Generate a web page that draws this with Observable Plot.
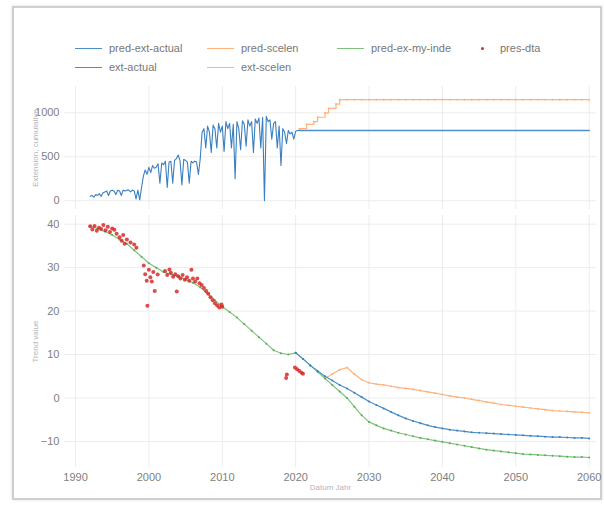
<!DOCTYPE html>
<html><head><meta charset="utf-8">
<script src="https://cdn.jsdelivr.net/npm/d3@7"></script>
<script src="https://cdn.jsdelivr.net/npm/@observablehq/plot@0.6"></script>
<style>
body{margin:0;background:#fff;font-family:"Liberation Sans",Arial,sans-serif;}
#frame{position:absolute;left:12px;top:6px;width:586px;height:490px;border:2px solid #cfcfcf;box-shadow:0 0 3px #ddd;}
.panel{position:absolute;left:0;}
#top{top:80px}
#bot{top:210px}
.leg{position:absolute;font-size:11px;color:#777;white-space:nowrap;line-height:12px}
.sw{position:absolute;height:0;border-top:1.5px solid}
.dot{position:absolute;width:3px;height:3px;border-radius:50%}
svg [aria-label="y-axis label"] text, svg [aria-label="x-axis label"] text{font-size:8px;fill:#b5b5b5}
svg [aria-label="y-axis tick label"] text, svg [aria-label="x-axis tick label"] text{fill:#808080}
</style></head>
<body>
<div id="frame"></div>
<div id="legend"></div>
<div id="top" class="panel"></div>
<div id="bot" class="panel"></div>
<script>
// ---------- data ----------
const seriesNames = ["pred-ext-actual","pred-scelen","pred-ex-my-inde","pres-dta","ext-actual","ext-scelen"];
const colBlue = "#4f8fc9", colOrange = "#ffb27d", colGreen = "#7cc47c", colRed = "#d62a2a";

// ext-actual, quarterly from 1992.00 to 2020.50
const extActualStart = 1992;
const extActualValues = [
  50,60,40,70, 60,80,50,90, 100,110,60,110, 120,110,70,120, 110,60,120,110,
  120,120,100,120, 110,20,120,10, 150,280,350,300, 380,320,400,370, 380,420,200,430,
  410,450,150,440, 450,200,460,480, 520,450,180,470, 460,440,200,450, 430,450,440,300,
  480,780,820,600, 850,780,550,860, 820,600,880,780, 850,560,900,820, 880,600,870,250,
  900,820,580,910, 870,620,920,850, 900,550,930,880, 940,600,950,0, 960,900,920,700,
  880,900,600,850, 400,820,780,650, 800,760,780,700, 790,800,800
];
// ext-actual continuation (flat)
const extFutureYears = [2020.5, 2060];
const extFutureValues = [800, 800];
// ext-scelen steps
const extScYears  = [2020.5,2021.5,2022.5,2023,2024,2024.5,2025.5,2026,2027,2028,2029,2030,2031,2032,2033,2034,2035,2036,2037,2038,2039,2040,2041,2042,2043,2044,2045,2046,2047,2048,2049,2050,2051,2052,2053,2054,2055,2056,2057,2058,2059,2060];
const extScValues = [820,870,900,950,1000,1050,1100,1150,1150,1150,1150,1150,1150,1150,1150,1150,1150,1150,1150,1150,1150,1150,1150,1150,1150,1150,1150,1150,1150,1150,1150,1150,1150,1150,1150,1150,1150,1150,1150,1150,1150,1150];

// pred-ex-my-inde, yearly 1992..2060
const greenStart = 1992;
const greenValues = [39.5,39,38.3,37.5,36.5,35.5,34,32.5,31,30,29,28.5,28,27.3,26.5,25.5,24,22.5,21,19.8,
  18.5,17,15.5,14,12.5,11,10.3,10,10.4,9,7.5,6,4.5,3,1.5,0,-2,-4,-5.5,-6.3,
  -7,-7.5,-8,-8.4,-8.8,-9.2,-9.5,-9.8,-10.1,-10.4,-10.7,-11,-11.3,-11.6,-11.9,-12.1,-12.3,-12.5,-12.7,-12.9,
  -13,-13.1,-13.2,-13.3,-13.4,-13.5,-13.6,-13.6,-13.7];
// pred-ext-actual, yearly 2020..2060
const blueStart = 2020;
const blueValues = [10.4,9,7.5,6.2,5,4,3,2.2,1.2,0.2,-0.8,-1.6,-2.4,-3.2,-4,-4.7,-5.3,-5.8,-6.3,-6.7,
  -7,-7.3,-7.5,-7.7,-7.9,-8,-8.1,-8.2,-8.3,-8.4,-8.5,-8.6,-8.7,-8.8,-8.9,-9,-9,-9.1,-9.2,-9.2,-9.3];
// pred-scelen, yearly 2024..2060
const orangeStart = 2024;
const orangeValues = [4.5,5.5,6.5,7,5.5,4.2,3.5,3.2,3,2.7,2.4,2.2,2,1.7,1.4,1.1,0.8,0.5,0.2,0,
  -0.3,-0.6,-0.9,-1.2,-1.5,-1.7,-1.9,-2.1,-2.3,-2.5,-2.7,-2.9,-3,-3.1,-3.2,-3.3,-3.4];
// pres-dta observations
const presYears = [1992.0,1992.3,1992.6,1992.9,1993.2,1993.5,1993.8,1994.1,1994.4,1994.7,1995.0,1995.3,1995.6,1996.0,1996.3,1996.5,1996.7,1997.0,1997.5,1998.0,1998.3,
  1999.3,1999.5,1999.7,1999.8,2000.0,2000.2,2000.4,2000.6,2000.8,2001.2,2002.2,2002.5,2002.8,2003.0,2003.3,2003.6,2003.8,2004.0,2004.3,2004.6,2004.9,
  2005.2,2005.5,2005.8,2006.0,2006.3,2006.6,2006.9,2007.2,2007.5,2007.8,2008.1,2008.4,2008.7,2009.0,2009.3,2009.6,2009.9,2010.0,
  2018.7,2018.8,2019.9,2020.2,2020.5,2020.8,2021.0];
const presValues = [39.5,38.8,39.6,38.5,39.2,38.9,39.8,38.6,39.4,38.2,39,38.7,37.8,37,36.2,37.5,35.5,36.5,35.8,35.3,34.6,
  30.5,28.5,27,21.2,29.5,27.8,26.8,29,24.6,28.4,29.2,28.3,29.6,28.8,27.9,28.5,24.5,28,27.5,28.3,27.2,
  27.8,27,29.5,27.5,26.8,27.5,26.4,26,25.3,24.6,24,23.2,22.5,21.8,21.3,20.8,21.5,21,
  4.6,5.4,7,6.6,6.2,5.8,5.6];

const xTicks = [1990,2000,2010,2020,2030,2040,2050,2060];
const topTicks = [0,500,1000];
const botTicks = [-10,0,10,20,30,40];

// ---------- tables ----------
const extActual = extActualValues.map((v,i)=>({t: extActualStart + i*0.25, v}));
const extFuture = extFutureYears.map((t,i)=>({t, v: extFutureValues[i]}));
const extSc = extScYears.map((t,i)=>({t, v: extScValues[i]}));
const green = greenValues.map((v,i)=>({t: greenStart+i, v}));
const blue = blueValues.map((v,i)=>({t: blueStart+i, v}));
const orange = orangeValues.map((v,i)=>({t: orangeStart+i, v}));
const pres = presYears.map((t,i)=>({t, v: presValues[i]}));

// ---------- legend ----------
const leg = document.getElementById("legend");
const items = [
  {name: seriesNames[0], c: colBlue, x: 75, y: 48, type:"line"},
  {name: seriesNames[1], c: colOrange, x: 207, y: 48, type:"line"},
  {name: seriesNames[2], c: colGreen, x: 337, y: 48, type:"line"},
  {name: seriesNames[3], c: colRed, x: 481, y: 48, type:"dot"},
  {name: seriesNames[4], c: colBlue, x: 75, y: 67, type:"line"},
  {name: seriesNames[5], c: colOrange, x: 207, y: 67, type:"line"}
];
for (const it of items) {
  if (it.type === "line") {
    const s = document.createElement("div"); s.className="sw";
    s.style.left = it.x+"px"; s.style.top = it.y+"px"; s.style.width="27px"; s.style.borderTopColor = it.c;
    leg.appendChild(s);
  } else {
    const s = document.createElement("div"); s.className="dot";
    s.style.left = it.x+"px"; s.style.top = (it.y-1)+"px"; s.style.background = it.c;
    leg.appendChild(s);
  }
  const t = document.createElement("div"); t.className="leg";
  t.textContent = it.name;
  t.style.left = (it.type==="line" ? it.x+34 : it.x+19)+"px"; t.style.top = (it.y-6)+"px";
  leg.appendChild(t);
}

// ---------- plots ----------
const common = {
  width: 604, marginLeft: 64, marginRight: 8,
  style: {fontFamily: "Liberation Sans, Arial, sans-serif", fontSize: "11px", color: "#777", background: "transparent"}
};
const xDomain = [1988.5, 2061];

const topPlot = Plot.plot({
  ...common,
  height: 129, marginTop: 6, marginBottom: 0,
  x: {domain: xDomain, axis: null},
  y: {domain: [-100, 1300], axis: null},
  marks: [
    Plot.gridX(xTicks, {stroke: "#ececec", strokeOpacity: 1}),
    Plot.gridY(topTicks, {stroke: "#ececec", strokeOpacity: 1}),
    Plot.axisY(topTicks, {tickSize: 0, tickPadding: 5, tickFormat: d => String(d), label: "Extension, cumulative", labelAnchor: "center", labelOffset: 32, labelArrow: "none"}),
    Plot.line(extSc, {x: "t", y: "v", stroke: colOrange, strokeWidth: 1.2, curve: "step-after"}),
    Plot.dot(extSc, {x: "t", y: "v", fill: colOrange, r: 1, stroke: null}),
    Plot.line(extFuture, {x: "t", y: "v", stroke: colBlue, strokeWidth: 1.5}),
    Plot.line(extActual, {x: "t", y: "v", stroke: "#3a7fc0", strokeWidth: 1.1})
  ]
});
document.getElementById("top").appendChild(topPlot);

const botPlot = Plot.plot({
  ...common,
  height: 287, marginTop: 5, marginBottom: 30,
  x: {domain: xDomain},
  y: {domain: [-16, 42]},
  marks: [
    Plot.gridX(xTicks, {stroke: "#ececec", strokeOpacity: 1}),
    Plot.gridY(botTicks, {stroke: "#ececec", strokeOpacity: 1}),
    Plot.axisY(botTicks, {tickSize: 0, tickPadding: 5, label: "Trend value", labelAnchor: "center", labelOffset: 32, labelArrow: "none"}),
    Plot.axisX(xTicks, {tickSize: 0, tickPadding: 6, tickFormat: d => String(d), label: "Datum Jahr", labelAnchor: "center", labelOffset: 22, labelArrow: "none"}),
    Plot.line(orange, {x: "t", y: "v", stroke: colOrange, strokeWidth: 1.2}),
    Plot.dot(orange, {x: "t", y: "v", fill: colOrange, r: 1, stroke: null}),
    Plot.line(green, {x: "t", y: "v", stroke: colGreen, strokeWidth: 1.2}),
    Plot.dot(green, {x: "t", y: "v", fill: "#5aaa5a", r: 1, stroke: null}),
    Plot.line(blue, {x: "t", y: "v", stroke: colBlue, strokeWidth: 1.2}),
    Plot.dot(blue, {x: "t", y: "v", fill: "#3a7fc0", r: 1, stroke: null}),
    Plot.dot(pres, {x: "t", y: "v", fill: colRed, r: 2, stroke: null, fillOpacity: 0.85})
  ]
});
document.getElementById("bot").appendChild(botPlot);
</script>
</body></html>
